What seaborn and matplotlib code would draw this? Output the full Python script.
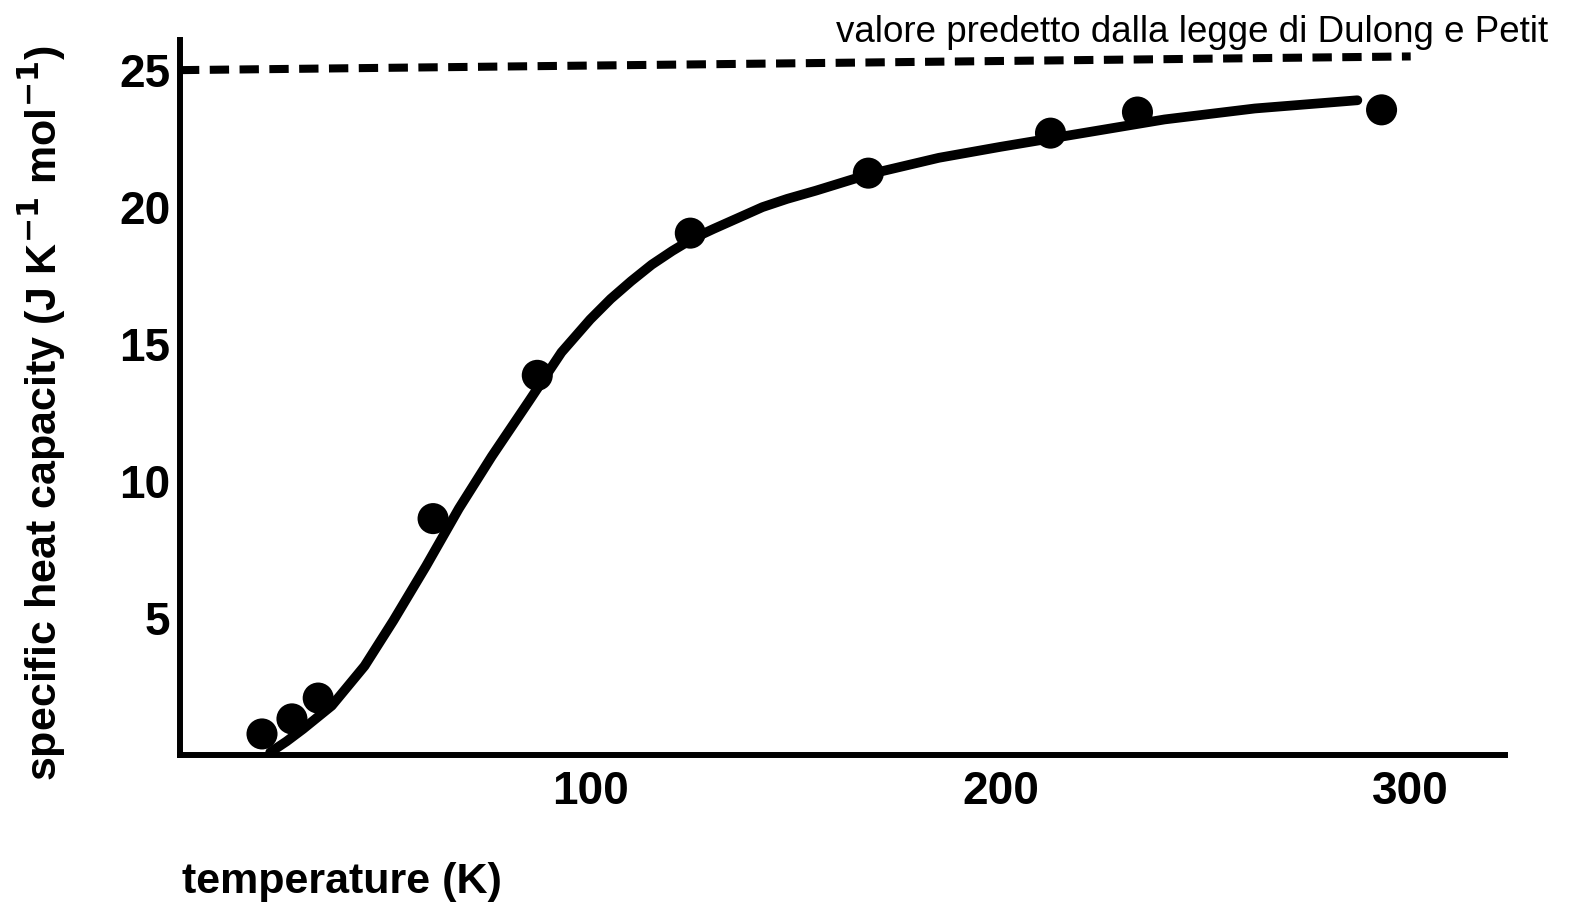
import matplotlib
matplotlib.use("Agg")
import matplotlib.pyplot as plt
import seaborn as sns
import pandas as pd

# measured specific heat capacity (points)
point_T = [20.0, 27.3, 33.7, 61.7, 87.1, 124.4, 167.8, 212.2, 233.4, 292.9]
point_C = [0.77, 1.32, 2.08, 8.63, 13.86, 19.05, 21.24, 22.70, 23.47, 23.55]

# smooth theoretical curve
curve_T = [22, 26, 30, 37, 45, 52, 60, 68, 76, 85, 93, 100, 105, 110, 115,
           120, 125, 130, 136, 142, 148, 155, 168, 185, 200, 220, 240, 262, 287]
curve_C = [0.1, 0.5, 0.95, 1.8, 3.25, 4.9, 6.9, 9.0, 10.9, 12.9, 14.7, 15.9,
           16.65, 17.3, 17.9, 18.4, 18.85, 19.2, 19.6, 20.0, 20.3, 20.6, 21.2,
           21.8, 22.2, 22.7, 23.2, 23.6, 23.9]

# Dulong-Petit line
dp_T = [0, 300]
dp_C = [25.0, 25.5]

x_ticks = [100, 200, 300]
y_ticks = [5, 10, 15, 20, 25]

sns.set_style("white")
plt.rcParams['font.family'] = ['Liberation Sans', 'DejaVu Sans']
plt.rcParams['text.color'] = 'black'

fig = plt.figure(figsize=(15.73, 9.11), dpi=100)
ax = fig.add_axes([0.1144, 0.1712, 0.8424, 0.7849])

pts = pd.DataFrame({"T": point_T, "C": point_C})
crv = pd.DataFrame({"T": curve_T, "C": curve_C})
dp = pd.DataFrame({"T": dp_T, "C": dp_C})

sns.lineplot(data=dp, x="T", y="C", ax=ax, color="black", lw=5.8,
             linestyle=(0, (2.4, 1.3)), sort=False, estimator=None)
sns.lineplot(data=crv, x="T", y="C", ax=ax, color="black", lw=7,
             sort=False, estimator=None)
sns.scatterplot(data=pts, x="T", y="C", ax=ax, color="black", s=500,
                edgecolor="none", zorder=5)

ax.set_xlim(0, 323)
ax.set_ylim(0, 26.1)
ax.set_xticks(x_ticks)
ax.set_yticks(y_ticks)
ax.set_xlabel("")
ax.set_ylabel("")
for s in ["top", "right"]:
    ax.spines[s].set_visible(False)
for s in ["left", "bottom"]:
    ax.spines[s].set_linewidth(4.3)
    ax.spines[s].set_color("black")
ax.tick_params(axis="both", direction="in", length=11, width=2.2,
               colors="black", labelcolor="black")
ax.tick_params(axis="y", pad=7)
ax.tick_params(axis="x", pad=11)
for lab in ax.get_xticklabels() + ax.get_yticklabels():
    lab.set_fontsize(33)
    lab.set_fontweight("bold")

fig.text(42 / 1573, 1 - 413 / 911,
         "specific heat capacity (J K$^{\\mathbf{-1}}$ mol$^{\\mathbf{-1}}$)",
         rotation=90, ha="center", va="center", fontsize=31, fontweight="bold",
         color="black")
fig.text(182 / 1573, 1 - 893 / 911, "temperature (K)", ha="left", va="baseline",
         fontsize=31, fontweight="bold", color="black")
fig.text(1548 / 1573, 1 - 42 / 911, "valore predetto dalla legge di Dulong e Petit",
         ha="right", va="baseline", fontsize=26.5, color="black")

fig.savefig("out.png", dpi=100, facecolor="white")
